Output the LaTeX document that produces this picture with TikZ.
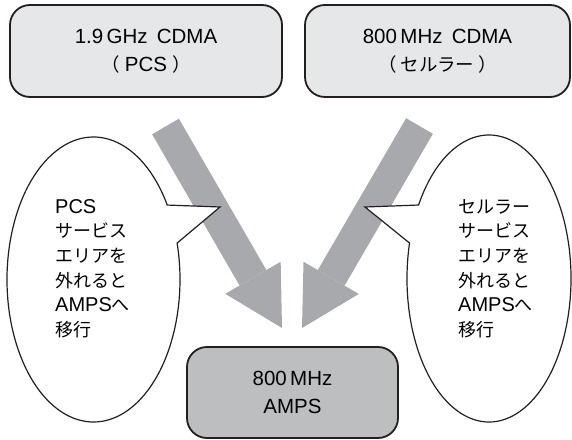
\documentclass[tikz,border=0pt]{standalone}
\usepackage{fontspec}
\setmainfont{Liberation Sans}
\newfontfamily\jpfont[Scale=0.9]{Noto Sans CJK JP}
\usepackage{tikz}
\usetikzlibrary{arrows.meta, positioning, calc}

\definecolor{boxlight}{RGB}{230,231,232}
\definecolor{boxdark}{RGB}{188,190,192}
\definecolor{arrowgray}{RGB}{167,169,172}
\definecolor{inkline}{RGB}{35,31,32}

\begin{document}
\begin{tikzpicture}[
  x=1pt, y=1pt,
  sysbox/.style = {draw=inkline, line width=1.8pt, rounded corners=20pt, align=center,
                   inner sep=0pt, font=\fontsize{20.5}{28}\selectfont},
  note/.style = {align=left, inner sep=0pt, anchor=west, font=\fontsize{20}{24.6}\selectfont},
  bubble/.style = {draw=inkline, fill=white, line width=1.2pt, line join=miter},
  bigarrow/.style = {draw=arrowgray, line width=31pt, -{Triangle[width=64pt, length=58pt, line width=0pt]}}
]
\useasboundingbox (0,0) rectangle (572,439);

% Big gray arrows
\coordinate (pcstail) at (165.5,312.5);
\coordinate (pcstip) at (282,111);
\coordinate (celltail) at (419.5,313);
\coordinate (celltip) at (302,111);
\draw[bigarrow] (pcstail) -- (pcstip);
\draw[bigarrow] (celltail) -- (celltip);

% Left callout
\coordinate (pcsc) at (93.5,159.5);
\coordinate (pcsptr) at (220,232);
\draw[bubble] ($(pcsc)+(31.5:86.5 and 142.5)$)
  arc[start angle=31.5, end angle=374.8, x radius=86.5, y radius=142.5]
  -- (pcsptr) -- cycle;
\node[note] (pcsnote) at (55,170.5) {PCS\\{\jpfont サービス}\\{\jpfont エリアを}\\{\jpfont 外れると}\\AMPS{\jpfont へ}\\{\jpfont 移行}};

% Right callout
\coordinate (cellc) at (489,160.5);
\coordinate (cellptr) at (365,232);
\draw[bubble] ($(cellc)+(165.7:82 and 143.5)$)
  arc[start angle=165.7, end angle=509.2, x radius=82, y radius=143.5]
  -- (cellptr) -- cycle;
\node[note] (cellnote) at (458,170.5) {{\jpfont セルラー}\\{\jpfont サービス}\\{\jpfont エリアを}\\{\jpfont 外れると}\\AMPS{\jpfont へ}\\{\jpfont 移行}};

% System boxes
\node[sysbox, fill=boxlight, minimum width=272pt, minimum height=92pt] (pcs) at (146,388)
  {1.9\,GHz\hspace{0.45em}CDMA\\{\jpfont （}\hspace{0.25em}PCS\hspace{0.25em}{\jpfont ）}};
\node[sysbox, fill=boxlight, minimum width=265pt, minimum height=92pt] (cell) at (437.5,388)
  {800\,MHz\hspace{0.45em}CDMA\\{\jpfont （}\hspace{0.2em}{\jpfont セルラー}\hspace{0.2em}{\jpfont ）}};
\node[sysbox, fill=boxdark, minimum width=211pt, minimum height=91pt] (amps) at (292.5,46.5)
  {800\,MHz\\AMPS};

\end{tikzpicture}
\end{document}
